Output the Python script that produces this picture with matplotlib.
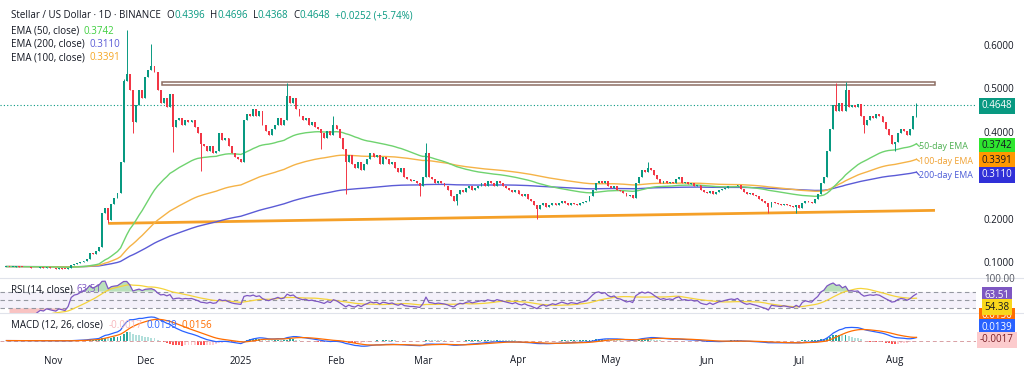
import numpy as np
import pandas as pd
import matplotlib
matplotlib.use("Agg")
import matplotlib.pyplot as plt
from matplotlib.patches import Rectangle

plt.rcParams['font.family'] = ['Open Sans', 'DejaVu Sans']

# ---------------- data ----------------
start_date = '2024-10-17'
closes = [
    0.094, 0.093, 0.094, 0.095, 0.094, 0.093, 0.092, 0.093, 0.091, 0.090, 0.091, 0.092, 0.091, 0.092, 0.091,
    0.090, 0.089, 0.090, 0.089, 0.088, 0.090,
    0.097, 0.100, 0.101, 0.104, 0.107, 0.111, 0.125, 0.122, 0.130, 0.140,
    0.218, 0.228, 0.200, 0.238, 0.252, 0.262, 0.335, 0.520, 0.535,
    0.500, 0.425, 0.465, 0.500, 0.480, 0.530, 0.545, 0.555, 0.540, 0.500, 0.470, 0.480, 0.460, 0.490, 0.415,
    0.430, 0.435, 0.420, 0.430, 0.425, 0.430, 0.415,
    0.400, 0.375, 0.370,
    0.360, 0.370, 0.355, 0.360,
    0.400,
    0.385, 0.390, 0.370, 0.355, 0.345,
    0.340, 0.335,
    0.430,
    0.445, 0.440, 0.455, 0.440, 0.450,
    0.420, 0.405, 0.395,
    0.410, 0.420, 0.435, 0.420, 0.430,
    0.485,
    0.470, 0.480, 0.455,
    0.440, 0.430, 0.435, 0.420, 0.425, 0.415, 0.410,
    0.400, 0.390, 0.405, 0.395,
    0.420, 0.410, 0.390,
    0.365, 0.335,
    0.350, 0.330, 0.320, 0.335, 0.315, 0.330,
    0.340, 0.355, 0.345, 0.350,
    0.330, 0.345, 0.340,
    0.330, 0.335, 0.320, 0.310, 0.320, 0.300, 0.295,
    0.290, 0.290, 0.285, 0.280,
    0.300, 0.355, 0.300,
    0.295, 0.285, 0.290, 0.285, 0.280,
    0.270, 0.255, 0.245,
    0.260, 0.270, 0.265, 0.275, 0.280, 0.270, 0.275,
    0.280, 0.285, 0.280, 0.290, 0.285, 0.280, 0.290, 0.285, 0.280,
    0.275, 0.270, 0.265, 0.270, 0.260, 0.255, 0.260, 0.250, 0.245,
    0.235, 0.225,
    0.235, 0.240, 0.230, 0.235, 0.240, 0.235, 0.240,
    0.245, 0.240, 0.235,
    0.240, 0.238, 0.235, 0.240, 0.242,
    0.245, 0.255, 0.270,
    0.285, 0.290, 0.285, 0.290,
    0.280, 0.275, 0.280, 0.270, 0.268,
    0.262, 0.255, 0.258, 0.252,
    0.285, 0.300,
    0.315, 0.310, 0.320, 0.315,
    0.305, 0.295, 0.285,
    0.290, 0.285, 0.288, 0.285,
    0.295, 0.300,
    0.285, 0.287, 0.283, 0.285, 0.280, 0.282,
    0.270, 0.265,
    0.262, 0.268, 0.260, 0.265,
    0.270, 0.272, 0.275, 0.278, 0.280, 0.278,
    0.282,
    0.272, 0.265, 0.260, 0.262, 0.258,
    0.255, 0.250, 0.245, 0.240, 0.230,
    0.243, 0.240, 0.238,
    0.236, 0.238, 0.235, 0.232, 0.230, 0.235,
    0.228,
    0.240, 0.245, 0.242, 0.240,
    0.250, 0.260,
    0.285, 0.300,
    0.360, 0.410, 0.465,
    0.450, 0.470,
    0.450, 0.500, 0.460,
    0.465, 0.460, 0.468,
    0.440, 0.420,
    0.430, 0.440, 0.435,
    0.445, 0.440,
    0.425, 0.410, 0.395,
    0.375, 0.380,
    0.400,
    0.410, 0.405, 0.395,
    0.410, 0.4396, 0.4648,
]
first_open = 0.0935
high_wicks = {38: 0.525, 39: 0.637, 47: 0.605, 91: 0.515, 106: 0.44, 136: 0.378,
              208: 0.333, 269: 0.515, 272: 0.518, 295: 0.4696}
low_wicks = {33: 0.193, 41: 0.40, 54: 0.357, 63: 0.314, 102: 0.365, 110: 0.26,
             134: 0.255, 146: 0.235, 172: 0.204, 247: 0.217, 256: 0.218,
             278: 0.40, 288: 0.36, 295: 0.4368}

symbol_title = 'Stellar / US Dollar · 1D · BINANCE'
ohlc_text = [('O', '0.4396'), ('H', '0.4696'), ('L', '0.4368'), ('C', '0.4648')]
change_text = '+0.0252 (+5.74%)'
ema_periods = [50, 200, 100]
ema_values = {50: '0.3742', 200: '0.3110', 100: '0.3391'}
ema_names = {50: '50-day EMA', 100: '100-day EMA', 200: '200-day EMA'}
rsi_value, rsi_ma_value = '63.51', '54.38'
macd_hist_value, macd_value, macd_signal_value = '-0.0017', '0.0139', '0.0156'
price_ticks = [0.1, 0.2, 0.4, 0.5, 0.6]
support_line = [(33, 0.193), (301, 0.223)]
resistance_zone = (50.4, 301, 0.510, 0.5177)
month_names = ['Nov', 'Dec', '2025', 'Feb', 'Mar', 'Apr', 'May', 'Jun', 'Jul', 'Aug']

# ---------------- computations ----------------
c = pd.Series(closes, dtype=float)
n = len(c)
idx = np.arange(n)
dates = pd.date_range(start_date, periods=n, freq='D')
o = np.r_[first_open, c.values[:-1]]
hi = np.maximum(o, c.values)
lo = np.minimum(o, c.values)
for k, v in high_wicks.items():
    hi[k] = v
for k, v in low_wicks.items():
    lo[k] = v
ema = {p: c.ewm(span=p, adjust=False).mean() for p in (50, 100, 200)}
delta = c.diff()
gain = delta.clip(lower=0).ewm(alpha=1/14, adjust=False).mean()
loss = (-delta.clip(upper=0)).ewm(alpha=1/14, adjust=False).mean()
rsi = 100 - 100 / (1 + gain / loss)
rsi_ma = rsi.rolling(14).mean()
macd = c.ewm(span=12, adjust=False).mean() - c.ewm(span=26, adjust=False).mean()
signal = macd.ewm(span=9, adjust=False).mean()
hist = macd - signal

# ---------------- figure ----------------
W, H = 1024, 381
fig = plt.figure(figsize=(W / 100, H / 100), dpi=100)
fig.patch.set_facecolor('white')


def rect(x0, y0, x1, y1):
    return [x0 / W, 1 - y1 / H, (x1 - x0) / W, (y1 - y0) / H]


ax = fig.add_axes(rect(0, 0, 976, 277))
ax_r = fig.add_axes(rect(0, 278, 976, 313), sharex=ax)
ax_m = fig.add_axes(rect(0, 313, 976, 350), sharex=ax)
for a in (ax, ax_r, ax_m):
    a.set_axis_off()
ax.set_xlim(-2.08, 314.3)
ax.set_ylim(0.0700, 0.706)

UP, DN = '#089981', '#f23645'
TXT = '#131722'
col = np.where(c.values >= o, UP, DN)

# resistance zone & support line
x0, x1, y0, y1 = resistance_zone
ax.add_patch(Rectangle((x0, y0), x1 - x0, y1 - y0, fc='white', ec='#8d6e63', lw=1.1, zorder=1))
ax.plot([p[0] for p in support_line], [p[1] for p in support_line], color='#f5a028', lw=2.0,
        solid_capstyle='butt', zorder=2)

# EMAs
ema_colors = {50: '#6fd36f', 100: '#f5b347', 200: '#5b5bd6'}
for p in (200, 100, 50):
    ax.plot(idx, ema[p], color=ema_colors[p], lw=1.0, zorder=3)

# candles
ax.vlines(idx, lo, hi, colors=col, lw=0.7, zorder=4)
ax.bar(idx, np.maximum(np.abs(c.values - o), 0.0018), bottom=np.minimum(o, c.values),
       width=0.62, color=col, lw=0, zorder=5)

# last price line
ax.axhline(c.values[-1], color=UP, lw=0.8, ls=(0, (1, 2)), zorder=2)

# EMA annotations
ema_txt_col = {50: '#4caf50', 100: '#f0a030', 200: '#4a5ad6'}
ema_txt_y = {50: 0.370, 100: 0.336, 200: 0.304}
for p in (50, 100, 200):
    ax.plot([n - 1, n - 0.1], [ema[p].iloc[-1], ema_txt_y[p]], color=ema_colors[p], lw=0.9)
    ax.text(n - 0.1, ema_txt_y[p], ema_names[p], color=ema_txt_col[p], fontsize=6.4,
            va='center', ha='left', zorder=6)

# ---------------- RSI pane ----------------
ax_r.set_ylim(18.8, 102.6)
ax_r.axhspan(30, 70, color='#7e57c2', alpha=0.08, lw=0)
for lvl in (70, 50, 30):
    ax_r.axhline(lvl, color='#9598a1', lw=0.8, ls=(0, (4, 3)))
ax_r.fill_between(idx, rsi, 70, where=rsi > 70, interpolate=True, color='#66bb6a', alpha=0.45, lw=0)
ax_r.fill_between(idx, rsi, 30, where=rsi < 30, interpolate=True, color='#ef5350', alpha=0.35, lw=0)
ax_r.plot(idx, rsi_ma, color='#f5d33a', lw=0.9)
ax_r.plot(idx, rsi, color='#7e57c2', lw=0.9)

# ---------------- MACD pane ----------------
pm = macd.max()
ax_m.set_ylim(-0.40 * pm, 1.17 * pm)
hcol = []
for k in range(n):
    prev = hist.iloc[k - 1] if k > 0 else 0
    h = hist.iloc[k]
    if h >= 0:
        hcol.append('#26a69a' if h >= prev else '#b2dfdb')
    else:
        hcol.append('#ff5252' if h < prev else '#ffcdd2')
ax_m.bar(idx, hist, width=0.6, color=hcol, lw=0)
ax_m.axhline(hist.iloc[-1], color='#d8a0a4', lw=0.7, ls=(0, (4, 3)))
ax_m.plot(idx, macd, color='#2962ff', lw=0.9)
ax_m.plot(idx, signal, color='#ff6d00', lw=0.9)

# pane separators
for yy in (277.5, 313):
    fig.add_artist(plt.Line2D([0, 1], [1 - yy / H, 1 - yy / H], color='#e0e3eb', lw=0.8))

# ---------------- texts ----------------
fig.canvas.draw()
renderer = fig.canvas.get_renderer()
FS = 7.0


def runs(x_px, y_px, parts, size=FS, gap=0):
    x = x_px
    for s, colr in parts:
        t = fig.text(x / W, 1 - y_px / H, s, color=colr, fontsize=size, va='center', ha='left')
        bb = t.get_window_extent(renderer)
        x = bb.x1 + gap
    return x


xx = runs(10.7, 16, [(symbol_title, TXT)])
xx += 6
for letter, val in ohlc_text:
    xx = runs(xx, 16, [(letter, TXT), (val, UP)]) + 5
runs(xx, 16, [(change_text, UP)])

ema_legend_col = {50: '#3fcf3f', 200: '#5b5bd6', 100: '#f5a623'}
for k, p in enumerate(ema_periods):
    yy = 31 + k * 13.5
    xe = runs(10.7, yy, [(f'EMA ({p}, close)', TXT)]) + 5
    runs(xe, yy, [(ema_values[p], ema_legend_col[p])])

xr = runs(10.7, 290, [('RSI (14, close)', TXT)]) + 4
runs(xr, 290, [(rsi_value, '#7e57c2')])
xm = runs(10.7, 325, [('MACD (12, 26, close)', TXT)]) + 6
xm = runs(xm, 325, [(macd_hist_value, '#f7b8bd')]) + 4
xm = runs(xm, 325, [(macd_value, '#2962ff')]) + 4
runs(xm, 325, [(macd_signal_value, '#ff6d00')])

# month labels
month_idx = [k for k in range(n) if dates[k].day == 1]
for k, name in zip(month_idx, month_names):
    xd = ax.transData.transform((k, 0))[0]
    fig.text(xd / W, 1 - 361 / H, name, fontsize=FS, color=TXT, ha='center', va='center')

# price scale
for p in price_ticks:
    yd = ax.transData.transform((0, p))[1]
    fig.text(984 / W, yd / H, f'{p:.4f}', fontsize=FS, color=TXT, ha='left', va='center')


def box(y_px, s, fc, tc, z=3):
    fig.text(997 / W, 1 - y_px / H, s, fontsize=FS, color=tc, ha='center', va='center', zorder=z,
             bbox=dict(boxstyle='square,pad=0.28', fc=fc, ec='none'))


box(106, '0.4648', UP, 'white')
box(146, ema_values[50], '#2ee62e', TXT)
box(160.5, ema_values[100], '#ff9800', TXT)
box(175, ema_values[200], '#3030d8', 'white')

fig.text(984 / W, 1 - 280 / H, '100.00', fontsize=FS, color='#50535e', ha='left', va='center')
box(316, macd_signal_value, '#ff6d00', 'white', z=2)
box(295, rsi_value, '#7e57c2', 'white')
box(307, rsi_ma_value, '#f9d71c', TXT)
box(327, macd_value, '#2962ff', 'white')
box(340, macd_hist_value, '#fccbcd', '#7a1f26')

fig.savefig('out.png', dpi=100, facecolor='white')
